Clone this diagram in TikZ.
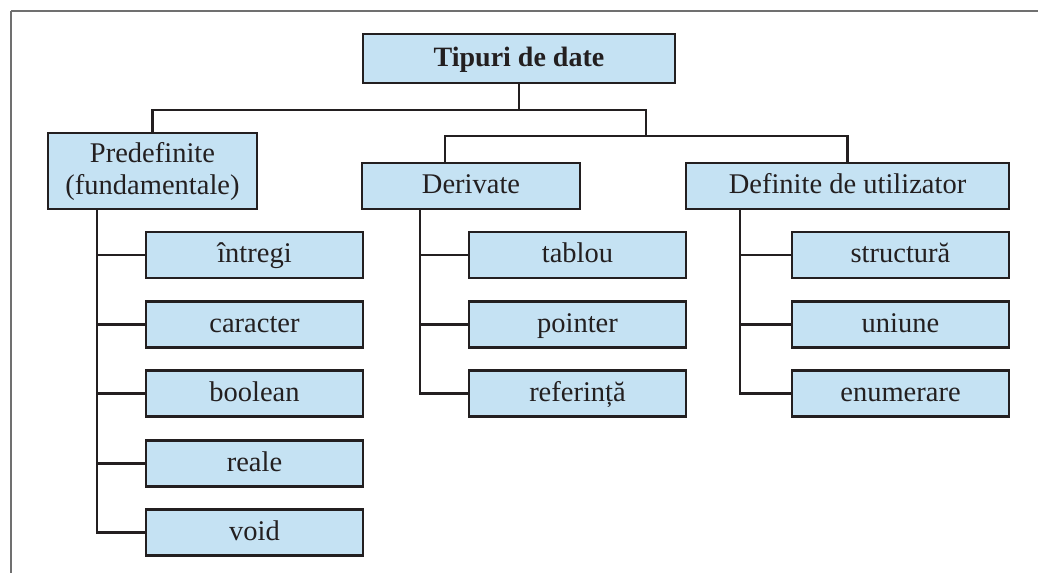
\documentclass[tikz,border=0pt]{standalone}
\usepackage{fontspec}
\setmainfont{Liberation Serif}
\definecolor{boxfill}{HTML}{C5E2F3}
\definecolor{ink}{HTML}{231F20}
\definecolor{framegray}{HTML}{707070}
\begin{document}
\begin{tikzpicture}[x=1pt,y=-1pt,
  box/.style={draw=ink, fill=boxfill, line width=2.4pt, inner sep=0pt, text=ink,
    font=\fontsize{28.5}{32}\selectfont, align=center},
  one/.style={text height=20pt, text depth=5pt},
  kid/.style={box, one, minimum width=217pt, minimum height=46pt},
  link/.style={draw=ink, line width=2.4pt}]
\useasboundingbox (0,0) rectangle (1038,573);
% frame
\draw[framegray, line width=1.8pt] (11,11) -- (1038,11);
\draw[framegray, line width=1.2pt] (11,11) -- (11,573);
% main nodes
\node[box, one, minimum width=312pt, minimum height=49pt, font=\fontsize{28}{32}\selectfont\bfseries] (root) at (519,58.5) {Tipuri de date};
\node[box, minimum width=209pt, minimum height=76pt] (pre) at (152.5,171) {Predefinite\\(fundamentale)};
\node[box, one, minimum width=218pt, minimum height=46pt] (der) at (471,186) {Derivate};
\node[box, one, minimum width=323pt, minimum height=46pt] (def) at (847.5,186) {Definite de utilizator};
% children
\node[kid] (p1) at (254.5,255) {întregi};
\node[kid] (p2) at (254.5,324.5) {caracter};
\node[kid] (p3) at (254.5,393.5) {boolean};
\node[kid] (p4) at (254.5,463.5) {reale};
\node[kid] (p5) at (254.5,532.5) {void};
\node[kid] (d1) at (577.5,255) {tablou};
\node[kid] (d2) at (577.5,324.5) {pointer};
\node[kid] (d3) at (577.5,393.5) {referință};
\node[kid] (u1) at (900.5,255) {structură};
\node[kid] (u2) at (900.5,324.5) {uniune};
\node[kid] (u3) at (900.5,393.5) {enumerare};
% junctions
\coordinate (j1) at (519,110);
\coordinate (j2) at (646,110);
\coordinate (j3) at (646,136);
\coordinate (ps) at (97,209);
\coordinate (ds) at (420,209);
\coordinate (us) at (740,209);
% top connectors
\draw[link] (root.south) -- (j1);
\draw[link] (pre.north) |- (j2) -- (j3);
\draw[link] ([xshift=-26pt]der.north) |- (j3) -| (def.north);
% child connectors
\draw[link] (ps) |- (p5.west);
\foreach \c in {p1,p2,p3,p4} \draw[link] (ps |- \c.west) -- (\c.west);
\draw[link] (ds) |- (d3.west);
\foreach \c in {d1,d2} \draw[link] (ds |- \c.west) -- (\c.west);
\draw[link] (us) |- (u3.west);
\foreach \c in {u1,u2} \draw[link] (us |- \c.west) -- (\c.west);
\end{tikzpicture}
\end{document}
